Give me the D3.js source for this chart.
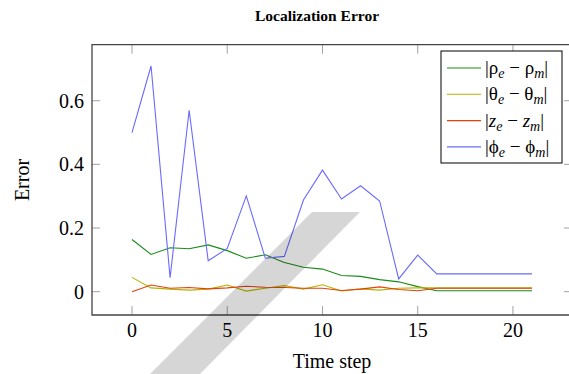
<!DOCTYPE html>
<meta charset="utf-8">
<style>
    body { margin: 0; background: #fff; }
    svg { font-family: "Liberation Serif", "Times New Roman", serif; }
</style>
<svg width="569" height="374"></svg>
<script src="https://cdn.jsdelivr.net/npm/d3@7"></script>
<script>

    var steps = d3.range(0, 22);
    var rhoErr = [0.164, 0.117, 0.138, 0.135, 0.147, 0.129, 0.105, 0.116, 0.092, 0.077, 0.071,
        0.051, 0.048, 0.038, 0.031, 0.016, 0.003, 0.003, 0.003, 0.003, 0.003, 0.003];
    var thetaErr = [0.045, 0.012, 0.008, 0.005, 0.008, 0.021, 0.002, 0.011, 0.019, 0.008, 0.022,
        0.002, 0.009, 0.005, 0.011, 0.012, 0.012, 0.012, 0.012, 0.012, 0.012, 0.012];
    var zErr = [0.000, 0.021, 0.011, 0.013, 0.009, 0.012, 0.017, 0.014, 0.013, 0.011, 0.011,
        0.004, 0.008, 0.015, 0.007, 0.003, 0.011, 0.011, 0.011, 0.011, 0.011, 0.011];
    var phiErr = [0.500, 0.709, 0.044, 0.570, 0.097, 0.136, 0.301, 0.105, 0.111, 0.288, 0.382,
        0.291, 0.333, 0.285, 0.040, 0.115, 0.056, 0.056, 0.056, 0.056, 0.056, 0.056];
    var xTicks = [0, 5, 10, 15, 20];
    var yTicks = [0, 0.2, 0.4, 0.6];

    var series = [
        { sym: "ρ", italic: false, color: "#1a8a1a", values: rhoErr },
        { sym: "θ", italic: false, color: "#b4b400", values: thetaErr },
        { sym: "z", italic: true, color: "#e4400c", values: zErr },
        { sym: "ϕ", italic: false, color: "#6a6aff", values: phiErr }
    ];

    var svg = d3.select("svg"),
        pLeft = 92, pRight = 572, pTop = 44.7, pBottom = 315;

    var x = d3.scaleLinear().domain([-2.1, 23.1]).range([pLeft, pRight]);
    var y = d3.scaleLinear().domain([-0.0732, 0.776]).range([pBottom, pTop]);

    // title
    svg.append("text")
        .attr("x", 317).attr("y", 21)
        .attr("text-anchor", "middle")
        .attr("font-size", 15.5).attr("font-weight", "bold")
        .text("Localization Error");

    // ticks (inside, mirrored)
    var tk = svg.append("g").attr("stroke", "#8a8a8a").attr("stroke-width", 0.8);
    xTicks.forEach(function (t) {
        tk.append("line").attr("x1", x(t)).attr("x2", x(t)).attr("y1", pBottom).attr("y2", pBottom - 9);
        tk.append("line").attr("x1", x(t)).attr("x2", x(t)).attr("y1", pTop).attr("y2", pTop + 9);
    });
    yTicks.forEach(function (t) {
        tk.append("line").attr("x1", pLeft).attr("x2", pLeft + 8).attr("y1", y(t)).attr("y2", y(t));
        tk.append("line").attr("x1", pRight).attr("x2", pRight - 8).attr("y1", y(t)).attr("y2", y(t));
    });

    // data lines
    var line = d3.line()
        .x(function (d, i) { return x(steps[i]); })
        .y(function (d) { return y(d); });

    svg.append("g").selectAll("path")
        .data(series)
        .enter().append("path")
        .attr("fill", "none")
        .attr("stroke", function (d) { return d.color; })
        .attr("stroke-width", 1.1)
        .attr("d", function (d) { return line(d.values); });

    // frame
    svg.append("path")
        .attr("fill", "none")
        .attr("stroke", "#444")
        .attr("stroke-width", 1.3)
        .attr("d", "M" + pRight + "," + pTop + "H" + pLeft + "V" + pBottom + "H" + pRight + "Z");

    // tick labels
    svg.append("g").selectAll("text")
        .data(xTicks)
        .enter().append("text")
        .attr("x", function (d) { return x(d); })
        .attr("y", 337)
        .attr("text-anchor", "middle")
        .attr("font-size", 20)
        .text(function (d) { return d; });

    svg.append("g").selectAll("text")
        .data(yTicks)
        .enter().append("text")
        .attr("x", 84)
        .attr("y", function (d) { return y(d) + 7; })
        .attr("text-anchor", "end")
        .attr("font-size", 20)
        .text(function (d) { return d; });

    // axis labels
    svg.append("text")
        .attr("x", 332).attr("y", 368)
        .attr("text-anchor", "middle")
        .attr("font-size", 20)
        .text("Time step");

    svg.append("text")
        .attr("transform", "translate(29,180)rotate(-90)")
        .attr("text-anchor", "middle")
        .attr("font-size", 20)
        .text("Error");

    // legend
    var lg = svg.append("g");
    lg.append("rect")
        .attr("x", 441).attr("y", 51).attr("width", 121).attr("height", 112)
        .attr("fill", "#fff").attr("stroke", "#000").attr("stroke-width", 1);

    var row = lg.selectAll("g.row")
        .data(series)
        .enter().append("g")
        .attr("transform", function (d, i) { return "translate(0," + (68 + i * 26.3) + ")"; });

    row.append("line")
        .attr("x1", 447).attr("x2", 481)
        .attr("stroke", function (d) { return d.color; })
        .attr("stroke-width", 1.1);

    var lt = row.append("text")
        .attr("x", 485).attr("y", 6)
        .attr("font-size", 19);
    lt.each(function (d) {
        var t = d3.select(this);
        var st = d.italic ? "italic" : "normal";
        t.append("tspan").text("|");
        t.append("tspan").attr("font-style", st).text(d.sym);
        t.append("tspan").attr("font-style", "italic").attr("font-size", 14).attr("dy", 4).text("e");
        t.append("tspan").attr("dy", -4).text(" − ");
        t.append("tspan").attr("font-style", st).text(d.sym);
        t.append("tspan").attr("font-style", "italic").attr("font-size", 14).attr("dy", 4).text("m");
        t.append("tspan").attr("dy", -4).text("|");
    });

    // light diagonal band of the publisher watermark
    svg.append("path")
        .attr("fill", "#000").attr("opacity", 0.16)
        .attr("d", "M312,212 L360,212 L200,374 L150,374 Z");
</script>
